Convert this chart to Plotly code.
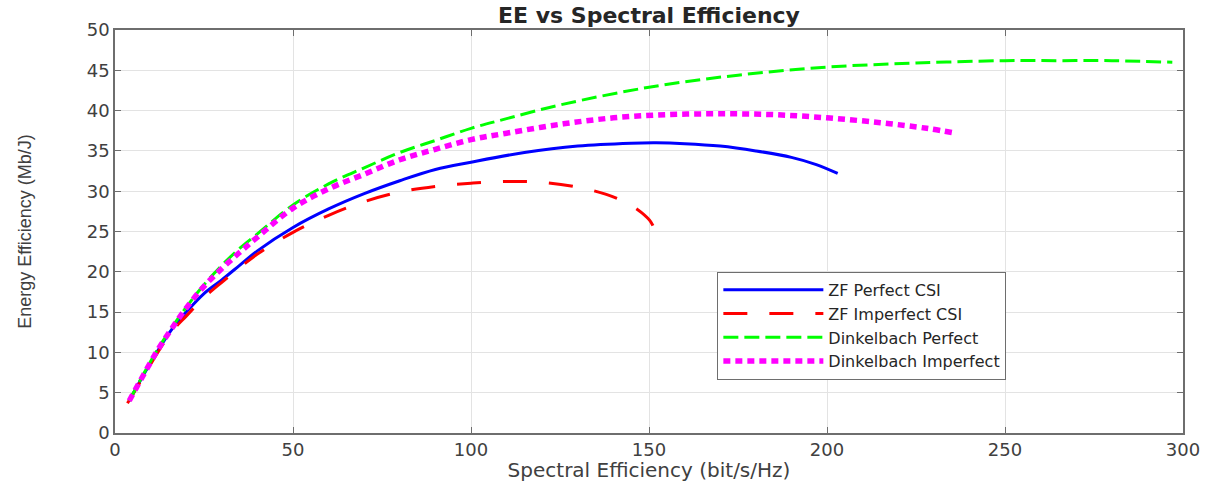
import plotly.graph_objects as go

# ZF Perfect CSI
zf_perf_se = [4, 8, 12, 16, 20, 25, 30, 35, 40, 50, 60, 70, 80, 90, 100, 115, 130, 145, 152, 160, 170, 180, 190, 197, 203]
zf_perf_ee = [4.0, 7.2, 10.2, 12.9, 15.0, 17.3, 19.0, 20.8, 22.6, 25.5, 27.8, 29.7, 31.3, 32.7, 33.6, 34.8, 35.6, 35.95, 36.0, 35.9, 35.6, 35.0, 34.2, 33.3, 32.2]

# ZF Imperfect CSI
zf_imp_se = [3.5, 8, 12, 16, 20, 25, 30, 35, 40, 50, 60, 70, 80, 90, 100, 110, 120, 130, 138, 144, 148, 150.5, 151.5, 151.8]
zf_imp_ee = [3.7, 7.0, 10.0, 12.6, 14.5, 16.8, 18.7, 20.5, 22.2, 24.9, 27.0, 28.7, 29.9, 30.6, 31.0, 31.2, 31.1, 30.5, 29.6, 28.5, 27.3, 26.2, 25.3, 24.9]

# Dinkelbach Perfect
dk_perf_se = [4, 8, 12, 16, 20, 25, 30, 35, 40, 50, 60, 70, 80, 90, 100, 110, 125, 150, 175, 200, 225, 250, 265, 280, 297]
dk_perf_ee = [4.0, 7.3, 10.4, 13.1, 15.6, 18.4, 20.8, 22.9, 24.7, 28.3, 30.9, 32.9, 34.8, 36.3, 37.8, 39.0, 40.7, 42.9, 44.4, 45.4, 45.9, 46.2, 46.2, 46.2, 46.0]

# Dinkelbach Imperfect
dk_imp_se = [4, 8, 12, 16, 20, 25, 30, 35, 40, 50, 60, 70, 80, 90, 100, 110, 125, 140, 155, 170, 185, 200, 215, 228, 236]
dk_imp_ee = [4.0, 7.2, 10.3, 13.0, 15.5, 18.2, 20.4, 22.4, 24.3, 27.9, 30.3, 32.1, 33.9, 35.2, 36.4, 37.2, 38.3, 39.1, 39.5, 39.6, 39.5, 39.1, 38.5, 37.8, 37.2]

series_names = ["ZF Perfect CSI", "ZF Imperfect CSI", "Dinkelbach Perfect", "Dinkelbach Imperfect"]
x_ticks = [0, 50, 100, 150, 200, 250, 300]
y_ticks = [0, 5, 10, 15, 20, 25, 30, 35, 40, 45, 50]

WIDE = "DejaVu Sans, Verdana, sans-serif"

fig = go.Figure()
fig.add_trace(go.Scatter(x=zf_perf_se, y=zf_perf_ee, mode="lines", name=series_names[0],
                         line=dict(color="#0000FF", width=3, shape="spline")))
fig.add_trace(go.Scatter(x=zf_imp_se, y=zf_imp_ee, mode="lines", name=series_names[1],
                         line=dict(color="#FF0000", width=3, dash="24px,22px", shape="spline")))
fig.add_trace(go.Scatter(x=dk_perf_se, y=dk_perf_ee, mode="lines", name=series_names[2],
                         line=dict(color="#00FF00", width=3, dash="15px,6px", shape="spline")))
fig.add_trace(go.Scatter(x=dk_imp_se, y=dk_imp_ee, mode="lines", name=series_names[3],
                         line=dict(color="#FF00FF", width=5.5, dash="7px,5px", shape="spline")))

axis_common = dict(
    showgrid=True, gridcolor="#E3E3E3", gridwidth=1,
    showline=True, linecolor="#6E6E6E", linewidth=1.5, mirror="allticks",
    ticks="inside", ticklen=6, tickcolor="#6E6E6E",
    zeroline=False, automargin=False,
    tickfont=dict(family=WIDE, size=18, color="#404040"),
)

fig.update_layout(
    width=1217, height=482,
    margin=dict(l=115, r=34, t=30, b=49),
    paper_bgcolor="white", plot_bgcolor="white",
    title=dict(text="<b>EE vs Spectral Efficiency</b>", x=0.5, xanchor="center", xref="paper",
               y=0.968, yanchor="middle",
               font=dict(family=WIDE, size=22, color="#262626")),
    xaxis=dict(range=[0, 300], tickvals=x_ticks,
               title=dict(text="Spectral Efficiency (bit/s/Hz)", standoff=0,
                          font=dict(family=WIDE, size=20, color="#404040")),
               **axis_common),
    yaxis=dict(range=[0, 50], tickvals=y_ticks,
               title=dict(text="Energy Efficiency (Mb/J)", standoff=50,
                          font=dict(family="Liberation Sans Narrow, Liberation Sans, Arial, sans-serif", size=18, color="#404040")),
               **axis_common),
    legend=dict(x=0.564, y=0.40, xanchor="left", yanchor="top",
                bordercolor="#6E6E6E", borderwidth=1, bgcolor="white",
                font=dict(family=WIDE, size=16, color="#262626"),
                itemwidth=100, tracegroupgap=0),
    showlegend=True,
)

fig.write_html("out.html", config={"displayModeBar": False},
               post_script="document.body.style.margin='0';document.body.style.overflow='hidden';")
